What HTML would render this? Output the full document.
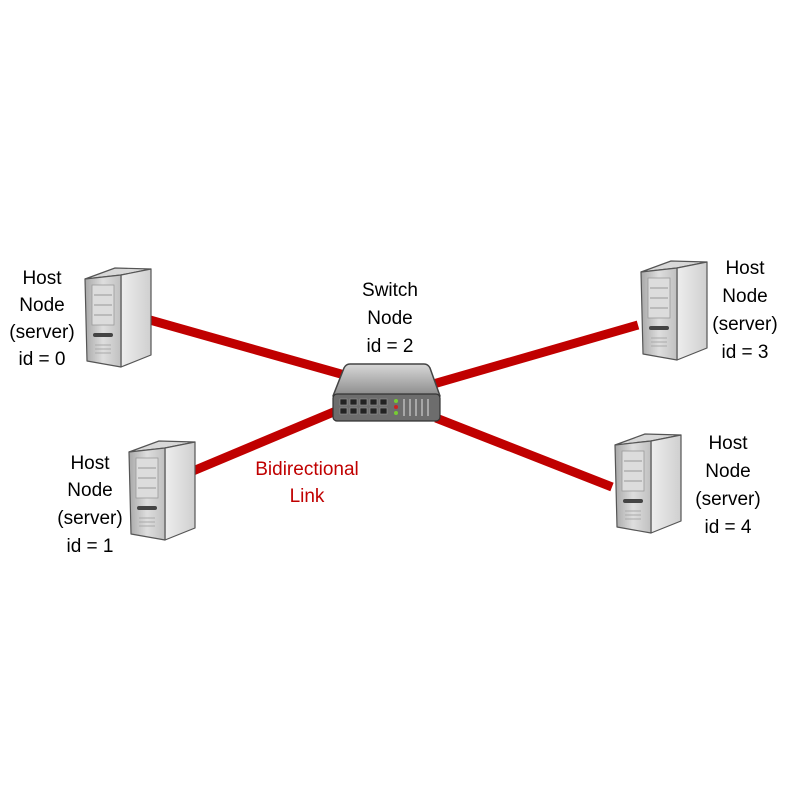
<!DOCTYPE html>
<html><head><meta charset="utf-8"><style>
body{margin:0;background:#fff;}
svg text{font-family:"Liberation Sans",sans-serif;font-size:19px;text-anchor:middle;fill:#000;}
</style></head><body>
<svg width="792" height="792" viewBox="0 0 792 792" xmlns="http://www.w3.org/2000/svg">
<defs>
<linearGradient id="fr" x1="0" y1="0" x2="1" y2="0"><stop offset="0" stop-color="#a8a8a8"/><stop offset="0.5" stop-color="#dedede"/><stop offset="1" stop-color="#c0c0c0"/></linearGradient>
<linearGradient id="sd" x1="0" y1="0" x2="1" y2="0"><stop offset="0" stop-color="#eeeeee"/><stop offset="1" stop-color="#cfcfcf"/></linearGradient>
<linearGradient id="sw" x1="0" y1="0" x2="0" y2="1"><stop offset="0" stop-color="#d8d8d8"/><stop offset="1" stop-color="#8a8a8a"/></linearGradient>
<g id="srv">
<polygon points="2,14 32,3 68,4 38,10" fill="#d8d8d8" stroke="#555" stroke-width="1.2" stroke-linejoin="round"/>
<polygon points="38,10 68,4 68,90 38,102" fill="url(#sd)" stroke="#555" stroke-width="1.2" stroke-linejoin="round"/>
<polygon points="2,14 38,10 38,102 4,96" fill="url(#fr)" stroke="#555" stroke-width="1.2" stroke-linejoin="round"/>
<rect x="9" y="20" width="22" height="40" fill="#dcdcdc" stroke="#999" stroke-width="0.8"/>
<line x1="11" y1="30" x2="29" y2="30" stroke="#999"/><line x1="11" y1="40" x2="29" y2="40" stroke="#999"/><line x1="11" y1="50" x2="29" y2="50" stroke="#999"/>
<rect x="10" y="68" width="20" height="4" rx="2" fill="#444"/>
<line x1="12" y1="80" x2="28" y2="80" stroke="#aaa"/><line x1="12" y1="84" x2="28" y2="84" stroke="#aaa"/><line x1="12" y1="88" x2="28" y2="88" stroke="#aaa"/>
</g>
</defs>
<g stroke="#c00000" stroke-width="9">
<line x1="150" y1="320" x2="348" y2="376"/>
<line x1="193" y1="471" x2="336" y2="411"/>
<line x1="638" y1="325" x2="430" y2="385"/>
<line x1="612" y1="487" x2="436" y2="418"/>
</g>
<use href="#srv" x="83" y="265"/>
<use href="#srv" x="127" y="438"/>
<use href="#srv" x="639" y="258"/>
<use href="#srv" x="613" y="431"/>
<g>
<path d="M350,364 L424,364 Q428,364 430,368 L440,396 L333,396 L344,368 Q346,364 350,364 Z" fill="url(#sw)" stroke="#444" stroke-width="1.5" stroke-linejoin="round"/>
<rect x="333" y="394" width="107" height="27" rx="4" fill="#6d6d6d" stroke="#333" stroke-width="1.2"/>
<g fill="#222" stroke="#999" stroke-width="0.6">
<rect x="340" y="399" width="7" height="6"/><rect x="350" y="399" width="7" height="6"/><rect x="360" y="399" width="7" height="6"/><rect x="370" y="399" width="7" height="6"/><rect x="380" y="399" width="7" height="6"/>
<rect x="340" y="408" width="7" height="6"/><rect x="350" y="408" width="7" height="6"/><rect x="360" y="408" width="7" height="6"/><rect x="370" y="408" width="7" height="6"/><rect x="380" y="408" width="7" height="6"/>
</g>
<circle cx="396" cy="401" r="2" fill="#7c3"/><circle cx="396" cy="407" r="2" fill="#c22"/><circle cx="396" cy="413" r="2" fill="#7c3"/>
<g stroke="#bbb" stroke-width="1.5"><line x1="404" y1="399" x2="404" y2="416"/><line x1="410" y1="399" x2="410" y2="416"/><line x1="416" y1="399" x2="416" y2="416"/><line x1="422" y1="399" x2="422" y2="416"/><line x1="428" y1="399" x2="428" y2="416"/></g>
</g>
<text x="42" y="284">Host</text><text x="42" y="311">Node</text><text x="42" y="338">(server)</text><text x="42" y="365">id = 0</text>
<text x="90" y="469">Host</text><text x="90" y="496">Node</text><text x="90" y="524">(server)</text><text x="90" y="552">id = 1</text>
<text x="390" y="296">Switch</text><text x="390" y="324">Node</text><text x="390" y="352">id = 2</text>
<text x="745" y="274">Host</text><text x="745" y="302">Node</text><text x="745" y="330">(server)</text><text x="745" y="358">id = 3</text>
<text x="728" y="449">Host</text><text x="728" y="477">Node</text><text x="728" y="505">(server)</text><text x="728" y="533">id = 4</text>
<text x="307" y="475" style="fill:#c00000">Bidirectional</text><text x="307" y="502" style="fill:#c00000">Link</text>
</svg>
</body></html>
